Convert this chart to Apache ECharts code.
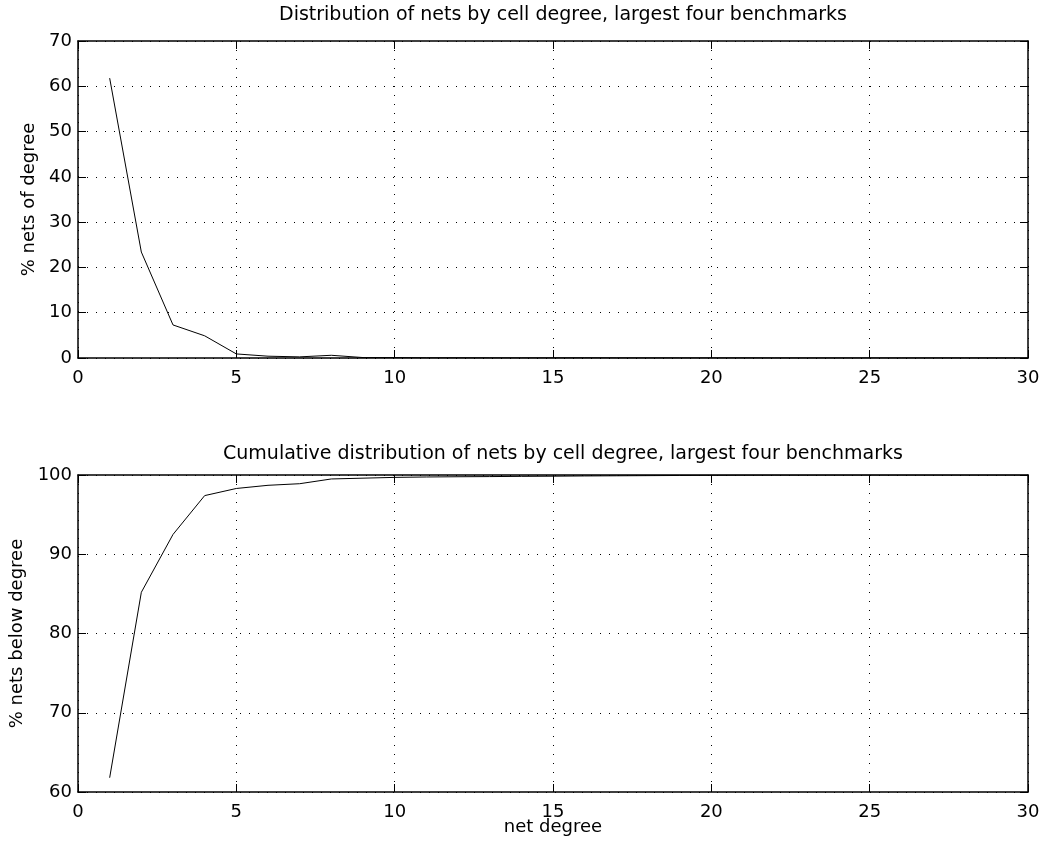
<!DOCTYPE html>
<html>
<head>
<meta charset="utf-8">
<script src="https://cdn.jsdelivr.net/npm/echarts@6/dist/echarts.min.js"></script>
<style>html,body{margin:0;padding:0;background:#fff}#c{width:1047px;height:851px}</style>
</head>
<body>
<div id="c"></div>
<script>
const degrees = [1,2,3,4,5,6,7,8,9,10,11,12,13,14,15,16,17,18,19,20,21,22,23,24,25,26,27,28,29,30];
const pctNets = [61.8,23.4,7.3,4.9,0.9,0.4,0.25,0.6,0.1,0.1,0.05,0.05,0.03,0.03,0.03,0.05,0.03,0.02,0.02,0.02,0.03,0.01,0.01,0.01,0.01,0.01,0.01,0.01,0.01,0.01];
const pctBelow = [61.8,85.2,92.5,97.4,98.3,98.7,98.9,99.5,99.6,99.7,99.75,99.78,99.8,99.83,99.85,99.88,99.9,99.92,99.94,99.96,99.98,99.99,99.99,100,100,100,100,100,100,100];
const titleTop = 'Distribution of nets by cell degree, largest four benchmarks';
const titleBottom = 'Cumulative distribution of nets by cell degree, largest four benchmarks';

const font = 'DejaVu Sans, sans-serif';
const chart = echarts.init(document.getElementById('c'), null, {renderer:'canvas'});
function xAx(gi, pos, labels, name) {
  return {
    type:'value', gridIndex:gi, position:pos, min:0, max:30, interval:5,
    name: name || '', nameLocation:'middle', nameGap:26, nameMoveOverlap:false,
    nameTextStyle:{color:'#000', fontSize:18, fontFamily:font},
    axisLine:{show:true, onZero:false, lineStyle:{color:'#000', width:1.5}},
    axisTick:{show:true, inside:true, length:8, lineStyle:{color:'#000'}},
    axisLabel:{show:labels, color:'#000', fontSize:18, fontFamily:font, margin:11},
    splitLine:{show:pos==='bottom', lineStyle:{color:'#000', type:[1,8], width:1}}
  };
}
function yAx(gi, pos, labels, min, max, name, gap) {
  return {
    type:'value', gridIndex:gi, position:pos, min:min, max:max, interval:10,
    name: name || '', nameLocation:'middle', nameGap:gap || 40, nameRotate:90,
    nameTextStyle:{color:'#000', fontSize:18, fontFamily:font},
    axisLine:{show:true, onZero:false, lineStyle:{color:'#000', width:1.5}},
    axisTick:{show:true, inside:true, length:8, lineStyle:{color:'#000'}},
    axisLabel:{show:labels, color:'#000', fontSize:18, fontFamily:font, margin:6},
    splitLine:{show:pos==='left', lineStyle:{color:'#000', type:[1,8], width:1}}
  };
}
chart.setOption({
  animation:false,
  backgroundColor:'#fff',
  title:[
    {text:titleTop, top:1, left:558, textAlign:'center', textStyle:{fontSize:19, fontWeight:'normal', color:'#000', fontFamily:font}},
    {text:titleBottom, top:440, left:558, textAlign:'center', textStyle:{fontSize:19, fontWeight:'normal', color:'#000', fontFamily:font}}
  ],
  grid:[
    {left:78, right:19, top:41, height:317},
    {left:78, right:19, top:475, height:317}
  ],
  xAxis:[xAx(0,'bottom',true), xAx(0,'top',false), xAx(1,'bottom',true,'net degree'), xAx(1,'top',false)],
  yAxis:[yAx(0,'left',true,0,70,'% nets of degree',36), yAx(0,'right',false,0,70), yAx(1,'left',true,60,100,'% nets below degree',52), yAx(1,'right',false,60,100)],
  series:[
    {type:'line', xAxisIndex:0, yAxisIndex:0, data:degrees.map((d,i)=>[d,pctNets[i]]), showSymbol:false, lineStyle:{color:'#000', width:1}},
    {type:'line', xAxisIndex:2, yAxisIndex:2, data:degrees.map((d,i)=>[d,pctBelow[i]]), showSymbol:false, lineStyle:{color:'#000', width:1}}
  ]
});
</script>
</body>
</html>
